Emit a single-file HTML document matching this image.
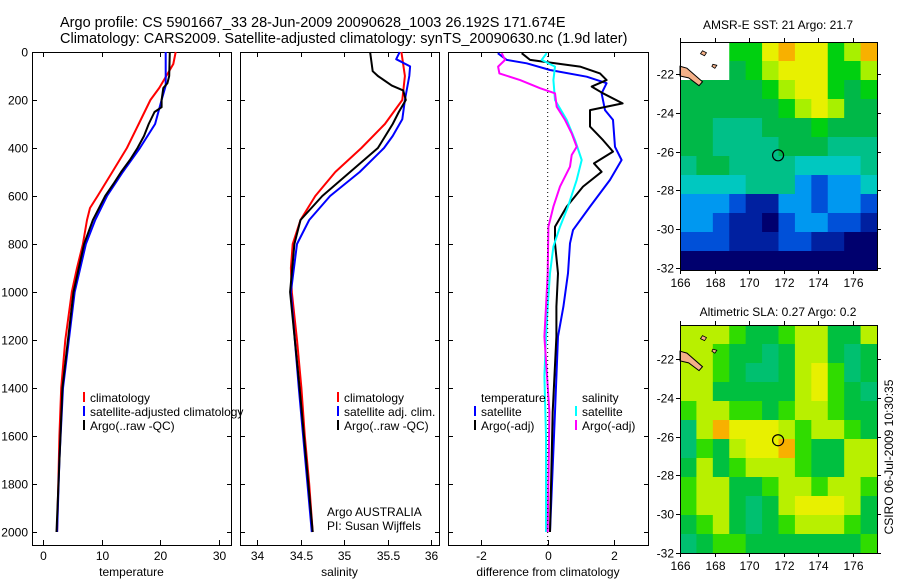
<!DOCTYPE html>
<html><head><meta charset="utf-8"><style>
html,body{margin:0;padding:0;background:#fff;}
svg{display:block;font-family:"Liberation Sans",sans-serif;}
</style></head><body>
<svg id="fig" width="900" height="580" viewBox="0 0 900 580">
<text x="60" y="27" font-size="14.5">Argo profile: CS 5901667_33 28-Jun-2009 20090628_1003 26.192S 171.674E</text>
<text x="60" y="43" font-size="14.5">Climatology: CARS2009. Satellite-adjusted climatology: synTS_20090630.nc (1.9d later)</text>
<text x="778" y="29" font-size="12" text-anchor="middle">AMSR-E SST: 21 Argo: 21.7</text>
<text x="778" y="316" font-size="12" text-anchor="middle">Altimetric SLA: 0.27 Argo: 0.2</text>
<text transform="translate(893,457) rotate(-90)" font-size="12" text-anchor="middle">CSIRO 06-Jul-2009 10:30:35</text>
<text x="327" y="516" font-size="12">Argo AUSTRALIA</text>
<text x="327" y="530" font-size="12">PI: Susan Wijffels</text>
</svg>
<script>
// ---------- data ----------
const depthTicks=[0,200,400,600,800,1000,1200,1400,1600,1800,2000];
const tempTicks=[0,10,20,30];
const salTicks=[34,34.5,35,35.5,36];
const diffTicks=[-2,0,2];
const lonTicks=[166,168,170,172,174,176];
const latTicks=[-22,-24,-26,-28,-30,-32];

const tClimDepth=[0,50,100,150,200,300,400,500,600,650,700,800,900,1000,1200,1400,1600,1800,2000];
const tClim=[22.6,22.2,21,19.8,18.3,16.3,14.3,11.8,9.3,8.0,7.5,6.8,5.8,4.9,3.8,3.1,2.8,2.6,2.4];
const tSatDepth=[0,140,200,300,400,500,600,700,800,1000,1400,1700,2000];
const tSat=[20.9,20.9,20.2,19.1,16.5,13.6,10.9,8.9,7.3,5.4,3.4,2.8,2.4];
const tArgoDepth=[0,100,130,150,200,230,250,300,350,400,450,500,550,600,700,800,1000,1400,2000];
const tArgo=[21.6,21.5,21.2,20.5,20.2,20.2,19.0,18.0,17.2,16.1,14.8,13.3,12.0,10.6,8.5,7.0,5.2,3.3,2.3];

const sClimDepth=[0,100,200,300,400,500,600,700,800,900,1000,1200,1400,1600,1800,2000];
const sClim=[35.66,35.70,35.67,35.47,35.2,34.9,34.67,34.5,34.41,34.39,34.40,34.46,34.51,34.55,34.6,34.64];
const sSatDepth=[0,30,60,100,200,280,350,400,500,600,700,800,1000,1400,2000];
const sSat=[35.64,35.6,35.76,35.75,35.7,35.67,35.56,35.46,35.18,34.84,34.6,34.46,34.39,34.48,34.63];
const sArgoDepth=[0,80,100,140,160,200,250,300,400,500,600,700,800,1000,1400,2000];
const sArgo=[35.3,35.33,35.39,35.55,35.68,35.71,35.63,35.56,35.39,35.07,34.75,34.5,34.43,34.38,34.49,34.64];

const dTSatDepth=[5,33,47,75,103,130,172,242,283,395,450,533,644,742,797,922,1061,1186,1500,1700,2000];
const dTSat=[-1.5,-1.23,-0.63,0.07,1.17,1.77,1.62,1.72,1.96,2.02,2.22,1.87,1.27,0.76,0.67,0.61,0.47,0.31,0.22,0.16,0.07];
const dTArgoDepth=[5,33,61,89,117,144,172,214,242,311,367,415,464,499,561,644,728,797,922,1061,1186,1500,2000];
const dTArgo=[-0.78,-0.53,0.97,1.57,1.77,1.32,1.66,2.25,1.27,1.27,1.66,1.96,1.39,1.62,1.06,0.57,0.22,0.22,0.31,0.26,0.26,0.15,0.07];
const dSSatDepth=[5,33,61,117,200,283,367,450,533,644,728,811,922,1061,1186,1350,1600,2000];
const dSSat=[-0.03,-0.18,0.22,0.17,0.22,0.57,0.82,1.02,0.87,0.61,0.37,0.17,0.07,0,-0.05,-0.1,-0.05,-0.05];
const dSArgoDepth=[5,33,61,89,117,151,172,228,283,339,395,429,478,561,644,728,922,1061,1186,1500,2000];
const dSArgo=[-1.38,-1.28,-1.49,-1.45,-0.83,-0.23,0.22,0.27,0.52,0.72,0.87,0.72,0.67,0.37,0.17,0.02,0,-0.05,-0.1,0.05,0];

// map grids: level 0..10 ; -1 = missing (white)
const sstGrid=[
[-1,-1,-1,7,7,9,10,9,9,7,8,10],
[-1,-1,-1,6,7,8,9,9,9,7,7,8],
[6,6,6,6,6,7,8,9,9,7,6,7],
[6,6,6,6,6,6,7,8,9,8,6,6],
[6,6,5,5,5,6,6,6,7,6,6,6],
[6,6,5,5,5,5,6,6,6,5,5,5],
[5,6,6,5,5,5,5,4,4,4,4,5],
[4,4,4,4,5,5,5,3,2,3,3,4],
[3,3,3,2,1,1,3,3,2,3,3,2],
[3,3,2,1,1,0,2,3,3,2,2,1],
[2,2,2,1,1,1,2,2,1,1,0,0],
[0,0,0,0,0,0,0,0,0,0,0,0]];
const slaGrid=[
[8,8,8,7,6,6,7,8,8,6,6,8],
[8,8,7,6,6,5,6,8,8,6,5,6],
[8,8,7,6,5,5,6,8,9,7,5,6],
[8,8,6,6,6,6,6,8,9,7,6,5],
[7,8,8,7,7,6,7,8,8,7,6,6],
[5,8,10,9,9,9,8,7,8,8,7,6],
[5,7,6,8,9,9,10,7,6,6,8,8],
[6,8,6,7,8,8,8,7,6,6,8,8],
[7,8,8,6,6,7,8,8,7,8,8,7],
[7,8,8,6,5,6,8,9,9,9,8,6],
[6,7,8,6,5,6,7,8,8,8,7,6],
[5,6,7,7,6,6,6,6,6,6,6,7]];
const argoLon=171.67, argoLat=-26.19;

// ---------- drawing ----------
const NS='http://www.w3.org/2000/svg';
const svg=document.getElementById('fig');
function mk(tag,attrs,parent){const e=document.createElementNS(NS,tag);for(const k in attrs)e.setAttribute(k,attrs[k]);(parent||svg).appendChild(e);return e;}

const Y0=52,Y1=545;
function yDepth(d){return 52+d*0.24;}
const panels=[
 {name:'temperature',x0:32,x1:231,fx:v=>43+v*5.87,ticks:tempTicks,lab:'temperature'},
 {name:'salinity',x0:240,x1:439,fx:v=>257+(v-34)*87,ticks:salTicks,lab:'salinity'},
 {name:'difference',x0:448,x1:648,fx:v=>547.7+v*33.3,ticks:diffTicks,lab:'difference from climatology'}];

panels.forEach((p,i)=>{
 const g=mk('g',{});
 
 
 const r=mk('rect',{x:p.x0+0.5,y:Y0+0.5,width:p.x1-p.x0,height:Y1-Y0,fill:'none',stroke:'#000','stroke-width':1},g);
 
 
 p.ticks.forEach(t=>{
  const x=Math.round(p.fx(t))+0.5;
  mk('line',{x1:x,x2:x,y1:Y1,y2:Y1-5,stroke:'#000'},g);
  mk('line',{x1:x,x2:x,y1:Y0,y2:Y0+5,stroke:'#000'},g);
  const tx=mk('text',{x:x,y:Y1+15,'font-size':12,'text-anchor':'middle'},g);
  tx.textContent=t;
  
  
 });
 const at=mk('text',{x:(p.x0+p.x1)/2,y:576,'font-size':12,'text-anchor':'middle'},g);
 at.textContent=p.lab;
 
 
 depthTicks.forEach(d=>{
  const y=Math.round(yDepth(d))+0.5;
  mk('line',{x1:p.x0,x2:p.x0+5,y1:y,y2:y,stroke:'#000'},g);
  mk('line',{x1:p.x1-4,x2:p.x1+1,y1:y,y2:y,stroke:'#000'},g);
  if(i===0){
   const tl=mk('text',{x:28,y:y+4,'font-size':12,'text-anchor':'end'},g);
   tl.textContent=d;
   
   
  }
 });
 p.g=g;
});
const zl=mk('line',{x1:547.7,x2:547.7,y1:Y0,y2:Y1,stroke:'#000','stroke-dasharray':'1,3'});



function line(p,depths,vals,color,name){
 const pts=depths.map((d,k)=>p.fx(vals[k]).toFixed(1)+','+yDepth(d).toFixed(1)).join(' ');
 const e=mk('polyline',{points:pts,fill:'none',stroke:color,'stroke-width':2,'stroke-linejoin':'round'},p.g);
 
 
}
line(panels[0],tClimDepth,tClim,'#f00','temp-climatology-line');
line(panels[0],tSatDepth,tSat,'#00f','temp-satellite-line');
line(panels[0],tArgoDepth,tArgo,'#000','temp-argo-line');
line(panels[1],sClimDepth,sClim,'#f00','sal-climatology-line');
line(panels[1],sSatDepth,sSat,'#00f','sal-satellite-line');
line(panels[1],sArgoDepth,sArgo,'#000','sal-argo-line');
line(panels[2],dTSatDepth,dTSat,'#00f','diff-temp-satellite-line');
line(panels[2],dTArgoDepth,dTArgo,'#000','diff-temp-argo-line');
line(panels[2],dSSatDepth,dSSat,'#0ff','diff-sal-satellite-line');
line(panels[2],dSArgoDepth,dSArgo,'#f0f','diff-sal-argo-line');

function legend(x,y,color,label){
 const g=mk('g',{});
 
 
 if(color) mk('rect',{x:x,y:y-10,width:2,height:10,fill:color},g);
 const t=mk('text',{x:x+7,y:y,'font-size':12},g);
 t.textContent=label;
}
legend(83,402,'#f00','climatology');
legend(83,416,'#00f','satellite-adjusted climatology');
legend(83,430,'#000','Argo(..raw -QC)');
legend(337,402,'#f00','climatology');
legend(337,416,'#00f','satellite adj. clim.');
legend(337,430,'#000','Argo(..raw -QC)');
legend(474,402,null,'temperature');
legend(474,416,'#00f','satellite');
legend(474,430,'#000','Argo(-adj)');
legend(575,402,null,'salinity');
legend(575,416,'#0ff','satellite');
legend(575,430,'#f0f','Argo(-adj)');

// maps
const sstCols=['#00006e','#0020a0','#0050d8','#0098f0','#00c8c0','#00c088','#00b848','#00d010','#a8f000','#e8f000','#f8b000'];
const slaCols=['#00a080','#00a080','#00a080','#00a080','#00b888','#00c070','#00c040','#30dc00','#b8f000','#e8f000','#f8b000'];
function drawMap(top,grid,cols,name){
 const x0=680,x1=877,bot=top+228;
 const fx=l=>680+(l-166)*17.3;
 const latTop=top===42?-20.35:-20.25;
 const fy=la=>top+(latTop-la)*19.4;
 const g=mk('g',{});
 
 
 const cw=(x1-x0)/12,ch=(bot-top)/12;
 grid.forEach((row,r)=>row.forEach((v,c)=>{
  const e=mk('rect',{x:(x0+c*cw).toFixed(2),y:(top+r*ch).toFixed(2),width:(cw+0.6).toFixed(2),height:(ch+0.6).toFixed(2),fill:v<0?'#fff':cols[v]},g);
  
  
 }));
 const l1=mk('path',{d:`M${fx(166)} ${fy(-21.6)} L${fx(166.4)} ${fy(-21.7)} L${fx(167.3)} ${fy(-22.4)} L${fx(167.1)} ${fy(-22.6)} L${fx(166.5)} ${fy(-22.2)} L${fx(166)} ${fy(-22.1)}Z`,fill:'#f4b088',stroke:'#000','stroke-width':1},g);
 
 
 mk('path',{d:`M${fx(167.3)} ${fy(-20.8)} l4 2 l-2 3 l-4 -2z M${fx(167.9)} ${fy(-21.5)} l4 1 l-2 3 l-3 -2z`,fill:'#f4b088',stroke:'#000','stroke-width':0.8},g);
 mk('rect',{x:x0+0.5,y:top+0.5,width:x1-x0,height:bot-top,fill:'none',stroke:'#000'},g);
 lonTicks.forEach(l=>{const x=Math.round(fx(l))+0.5;
  mk('line',{x1:x,x2:x,y1:bot,y2:bot+4,stroke:'#000'},g);mk('line',{x1:x,x2:x,y1:top,y2:top-4,stroke:'#000'},g);
  const t=mk('text',{x:x,y:bot+17,'font-size':12,'text-anchor':'middle'},g);t.textContent=l;
  
  });
 latTicks.forEach(la=>{const y=Math.round(fy(la))+0.5;
  mk('line',{x1:x0-4,x2:x0,y1:y,y2:y,stroke:'#000'},g);mk('line',{x1:x1,x2:x1+4,y1:y,y2:y,stroke:'#000'},g);
  const t=mk('text',{x:x0-6,y:y+4,'font-size':12,'text-anchor':'end'},g);t.textContent=la;
  
  });
 const c=mk('circle',{cx:fx(argoLon),cy:fy(argoLat),r:5.5,fill:'none',stroke:'#000','stroke-width':1.2},g);
 
 
}
drawMap(42,sstGrid,sstCols,'sst-map');
drawMap(325,slaGrid,slaCols,'sla-map');
</script>
</body></html>
